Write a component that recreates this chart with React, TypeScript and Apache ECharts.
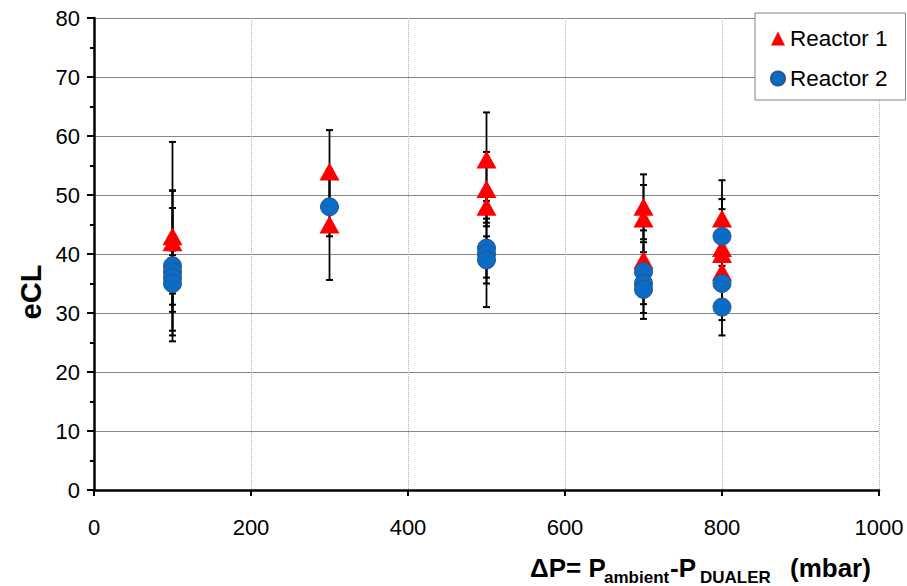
import React, { useEffect, useRef } from "react";
import * as echarts from "echarts";

// Reactor 1 (red triangles)
const reactor1X = [100, 100, 300, 300, 500, 500, 500, 700, 700, 700, 800, 800, 800, 800];
const reactor1Y = [43, 42, 54, 45, 56, 51, 48, 48, 46, 39, 46, 41, 40, 37];
const reactor1Err = [16, 8.7, 7, 9.4, 8, 6.3, 2.7, 5.5, 5.7, 3, 6.5, 6.6, 2, 2];

// Reactor 2 (blue circles)
const reactor2X = [100, 100, 100, 100, 300, 500, 500, 500, 700, 700, 700, 800, 800, 800];
const reactor2Y = [38, 37, 36, 35, 48, 41, 40, 39, 37, 35, 34, 43, 35, 31];
const reactor2Err = [12.8, 10.8, 4.6, 4.8, 5, 5, 9, 4, 7, 3.5, 5, 6.3, 6.2, 4.8];

const xTicks = { min: 0, max: 1000, interval: 200 };
const yTicks = { min: 0, max: 80, interval: 10 };

const FONT = 'Arial, "Liberation Sans", sans-serif';

export default function App() {
  const ref = useRef<HTMLDivElement>(null);

  useEffect(() => {
    document.body.style.margin = "0";
    if (!ref.current) return;
    const chart = echarts.init(ref.current, undefined, { renderer: "svg" });

    const errSeries = (xs: number[], ys: number[], es: number[], name: string) => ({
      type: "custom",
      name,
      z: 1,
      silent: true,
      encode: { x: 0, y: 1 },
      data: xs.map((x, i) => [x, ys[i], es[i]]),
      renderItem: (_params: any, api: any) => {
        const x = api.value(0);
        const y = api.value(1);
        const e = api.value(2);
        const top = api.coord([x, y + e]);
        const bot = api.coord([x, y - e]);
        const stem = { stroke: "#000", lineWidth: 1.8 };
        const cap = { stroke: "#000", lineWidth: 2 };
        return {
          type: "group",
          children: [
            { type: "line", shape: { x1: top[0], y1: top[1], x2: bot[0], y2: bot[1] }, style: stem },
            { type: "line", shape: { x1: top[0] - 3.5, y1: top[1], x2: top[0] + 3.5, y2: top[1] }, style: cap },
            { type: "line", shape: { x1: bot[0] - 3.5, y1: bot[1], x2: bot[0] + 3.5, y2: bot[1] }, style: cap },
          ],
        };
      },
    });

    const option: any = {
      animation: false,
      backgroundColor: "#fff",
      grid: { left: 94, right: 28, top: 18, bottom: 96, containLabel: false },
      xAxis: {
        type: "value",
        min: xTicks.min,
        max: xTicks.max,
        interval: xTicks.interval,
        axisLine: { show: true, onZero: false, lineStyle: { color: "#000", width: 2.5 } },
        axisTick: { show: true, length: 6, lineStyle: { color: "#000", width: 2 } },
        axisLabel: { fontSize: 22, color: "#000", fontFamily: FONT, margin: 26, formatter: (v: number) => String(v) },
        splitLine: { show: true, lineStyle: { type: "dotted", color: "#b4b4b4", width: 1 } },
      },
      yAxis: {
        type: "value",
        min: yTicks.min,
        max: yTicks.max,
        interval: yTicks.interval,
        axisLine: { show: true, onZero: false, lineStyle: { color: "#000", width: 2.5 } },
        axisTick: { show: true, length: 7, lineStyle: { color: "#000", width: 2 } },
        minorTick: { show: true, splitNumber: 2, length: 4, lineStyle: { color: "#000", width: 2 } },
        minorSplitLine: { show: false },
        axisLabel: { fontSize: 22, color: "#000", fontFamily: FONT, margin: 14, formatter: (v: number) => String(v) },
        splitLine: { show: true, lineStyle: { color: "#868686", width: 1 } },
      },
      legend: {
        left: 755,
        top: 13,
        orient: "vertical",
        data: ["Reactor 1", "Reactor 2"],
        backgroundColor: "#fff",
        borderColor: "#808080",
        borderWidth: 1,
        borderRadius: 0,
        padding: [14, 18, 10, 15],
        itemGap: 17,
        itemWidth: 14,
        itemHeight: 14,
        textStyle: { fontSize: 22.5, color: "#000", fontFamily: FONT },
      },
      graphic: [
        {
          type: "text",
          x: 31,
          y: 292,
          rotation: Math.PI / 2,
          style: { text: "eCL", align: "center", verticalAlign: "middle", font: `bold 29px ${FONT}`, fill: "#000" },
        },
        { type: "text", x: 530, y: 568, style: { text: "ΔP= P", verticalAlign: "middle", font: `bold 26px ${FONT}`, fill: "#000" } },
        { type: "text", x: 604, y: 577, style: { text: "ambient", verticalAlign: "middle", font: `bold 17px ${FONT}`, fill: "#000" } },
        { type: "text", x: 670, y: 568, style: { text: "-P", verticalAlign: "middle", font: `bold 26px ${FONT}`, fill: "#000" } },
        { type: "text", x: 700, y: 577, style: { text: "DUALER", verticalAlign: "middle", font: `bold 17px ${FONT}`, fill: "#000" } },
        { type: "text", x: 790, y: 568, style: { text: "(mbar)", verticalAlign: "middle", font: `bold 26px ${FONT}`, fill: "#000" } },
      ],
      series: [
        errSeries(reactor1X, reactor1Y, reactor1Err, "err1"),
        errSeries(reactor2X, reactor2Y, reactor2Err, "err2"),
        {
          type: "scatter",
          name: "Reactor 1",
          z: 3,
          symbol: "triangle",
          symbolSize: [20, 18],
          itemStyle: { color: "#ff0000", opacity: 1 },
          data: reactor1X.map((x, i) => [x, reactor1Y[i]]),
        },
        {
          type: "scatter",
          name: "Reactor 2",
          z: 3,
          symbol: "circle",
          symbolSize: 18,
          itemStyle: { color: "#0a6cc2", borderColor: "#2a5590", borderWidth: 1, opacity: 1 },
          data: reactor2X.map((x, i) => [x, reactor2Y[i]]),
        },
      ],
    };

    chart.setOption(option);
    return () => chart.dispose();
  }, []);

  return <div ref={ref} style={{ position: "fixed", left: 0, top: 0, width: 907, height: 586 }} />;
}
